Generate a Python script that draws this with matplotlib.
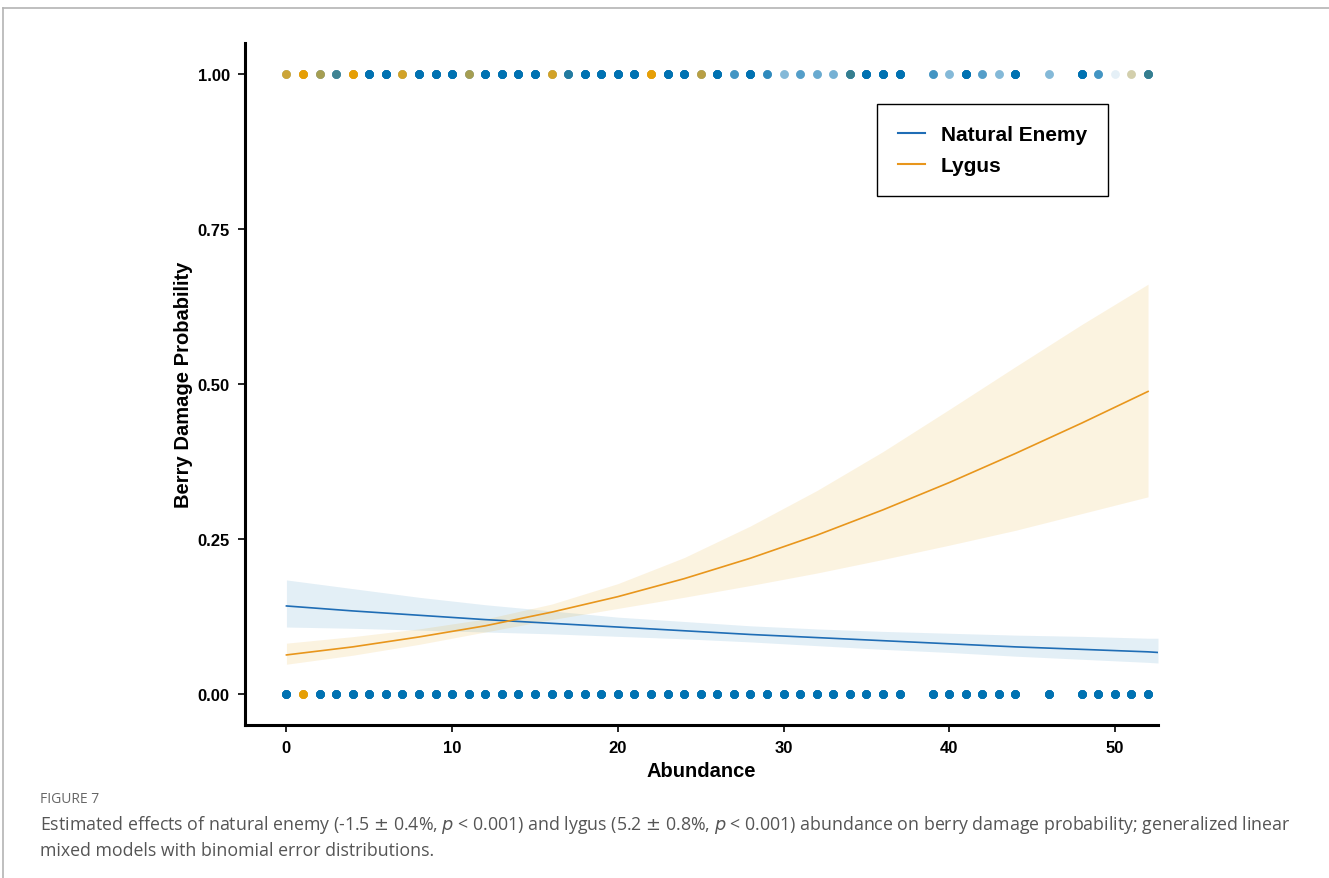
import numpy as np
import matplotlib
matplotlib.use('Agg')
import matplotlib.pyplot as plt
from matplotlib.lines import Line2D

plt.rcParams['font.family'] = ['Liberation Sans', 'DejaVu Sans']

# observed data: number of plots at each abundance value, damaged (1) and undamaged (0)
abund = np.arange(0, 53)
missing = [38, 45, 47]
ne_top = [5, 0, 10, 20, 0, 40, 40, 5, 40, 40, 40, 10, 40, 40, 40, 40, 5, 25, 40, 40,
          40, 40, 0, 40, 40, 8, 40, 12, 40, 15, 6, 10, 8, 7, 25, 40, 40, 40, 0, 12,
          6, 40, 10, 6, 40, 0, 6, 0, 40, 12, 1, 2, 25]
ly_top = [12, 30, 8, 2, 30, 0, 0, 15, 0, 0, 0, 8, 0, 0, 0, 0, 15, 1, 0, 0,
          0, 0, 30, 0, 0, 10, 0, 0, 0, 0, 0, 0, 0, 0, 2, 0, 0, 0, 0, 0,
          0, 0, 0, 0, 0, 0, 0, 0, 0, 0, 0, 3, 2]
ne_bot = [40] * 53
ne_bot[1] = 0
ly_bot = [0] * 53
ly_bot[1] = 30
for m in missing:
    ne_bot[m] = 0

# fitted GLMM curves
fit_x = [0, 4, 8, 12, 16, 20, 24, 28, 32, 36, 40, 44, 48, 52]
ly_fit = [0.063, 0.076, 0.092, 0.110, 0.132, 0.157, 0.186, 0.219, 0.256, 0.297, 0.341, 0.388, 0.437, 0.488]
ly_lo = [0.048, 0.0625, 0.080, 0.100, 0.120, 0.138, 0.156, 0.175, 0.195, 0.217, 0.240, 0.264, 0.291, 0.318]
ly_hi = [0.082, 0.0925, 0.105, 0.121, 0.145, 0.178, 0.220, 0.271, 0.328, 0.391, 0.459, 0.528, 0.596, 0.661]

ne_x = [0, 4, 8, 12, 16, 20, 24, 28, 32, 36, 40, 44, 48, 52, 52.6]
ne_fit = [0.142, 0.134, 0.127, 0.120, 0.114, 0.108, 0.102, 0.096, 0.091, 0.086, 0.081, 0.076, 0.072, 0.068, 0.067]
ne_lo = [0.108, 0.106, 0.103, 0.100, 0.097, 0.093, 0.089, 0.084, 0.078, 0.072, 0.067, 0.061, 0.056, 0.051, 0.050]
ne_hi = [0.184, 0.170, 0.156, 0.144, 0.134, 0.124, 0.117, 0.110, 0.105, 0.101, 0.098, 0.095, 0.093, 0.090, 0.090]

blue = '#0072B2'
orange = '#E69F00'
line_blue = '#1f6db5'
line_orange = '#e8961c'

fig = plt.figure(figsize=(13.29, 8.79), dpi=100)
ax = fig.add_axes([245 / 1329, 1 - 726 / 879, (1158 - 245) / 1329, (726 - 44) / 879])

# points (alpha overlap shows number of plots)
def draw_points(counts, yval, color):
    xs = np.repeat(abund, counts)
    ax.scatter(xs, np.full(len(xs), yval), s=40, color=color, alpha=0.1,
               linewidths=0, zorder=3)

draw_points(ne_top, 1.0, blue)
draw_points(ne_bot, 0.0, blue)
draw_points(ly_top, 1.0, orange)
draw_points(ly_bot, 0.0, orange)

ax.fill_between(ne_x, ne_lo, ne_hi, color=blue, alpha=0.11, linewidth=0, zorder=1)
ax.fill_between(fit_x, ly_lo, ly_hi, color=orange, alpha=0.12, linewidth=0, zorder=1)
ax.plot(ne_x, ne_fit, color=line_blue, lw=1.2, zorder=2)
ax.plot(fit_x, ly_fit, color=line_orange, lw=1.2, zorder=2)

ax.set_xlim(-2.5, 52.6)
ax.set_ylim(-0.05, 1.05)
ax.set_xticks([0, 10, 20, 30, 40, 50])
ax.set_yticks([0, 0.25, 0.5, 0.75, 1.0])
ax.set_yticklabels(['0.00', '0.25', '0.50', '0.75', '1.00'])
for s in ['top', 'right']:
    ax.spines[s].set_visible(False)
for s in ['left', 'bottom']:
    ax.spines[s].set_linewidth(2.2)
ax.tick_params(axis='both', width=1.2, length=5, labelsize=12, pad=6, colors='black')
for lab in ax.get_xticklabels() + ax.get_yticklabels():
    lab.set_fontweight('bold')
ax.set_xlabel('Abundance', fontsize=14.5, fontweight='bold', labelpad=4)
ax.set_ylabel('Berry Damage Probability', fontsize=14.5, fontweight='bold', labelpad=3)

handles = [Line2D([], [], color=line_blue, lw=1.5), Line2D([], [], color=line_orange, lw=1.5)]
leg = fig.legend(handles, ['Natural Enemy', 'Lygus'], loc='upper left',
                 bbox_to_anchor=(877 / 1329, 1 - 105 / 879), borderaxespad=0,
                 fancybox=False, edgecolor='black', framealpha=1, borderpad=1.0,
                 handlelength=1.3, handletextpad=0.75, labelspacing=0.6,
                 prop={'weight': 'bold', 'size': 15})
leg.get_frame().set_linewidth(1.0)

# page frame lines
fig.add_artist(Line2D([3 / 1329, 1], [1 - 9 / 879, 1 - 9 / 879], color='#b4b4b4', lw=1.2))
fig.add_artist(Line2D([3 / 1329, 3 / 1329], [0, 1 - 9 / 879], color='#b4b4b4', lw=1.2))

cap_font = ['Open Sans', 'DejaVu Sans']
fig.text(40 / 1329, 1 - 800 / 879, 'FIGURE 7', fontsize=10, color='#666666',
         family=cap_font, va='center')
fig.text(40 / 1329, 1 - 825 / 879,
         'Estimated effects of natural enemy (-1.5 $\\pm$ 0.4%, $p$ < 0.001) and lygus (5.2 $\\pm$ 0.8%, $p$ < 0.001) abundance on berry damage probability; generalized linear',
         fontsize=12.8, color='#555555', family=cap_font, va='center')
fig.text(40 / 1329, 1 - 851 / 879, 'mixed models with binomial error distributions.',
         fontsize=12.8, color='#555555', family=cap_font, va='center')

fig.savefig('out.png', dpi=100)
